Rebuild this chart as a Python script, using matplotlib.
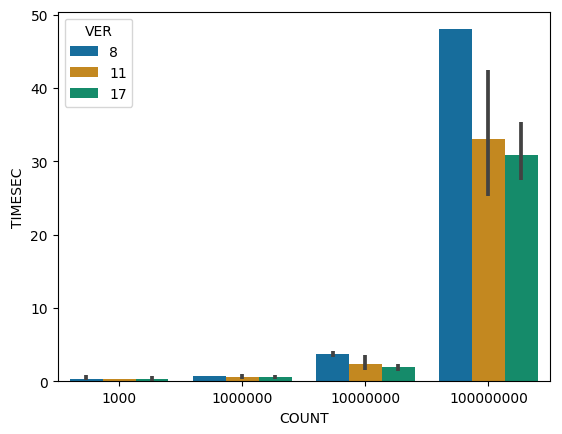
import numpy as np
import seaborn as sns
import matplotlib
matplotlib.use('Agg')
import matplotlib.pyplot as plt

# data (mean TIMESEC, CI low / high)
counts = ['1000', '1000000', '10000000', '100000000']
versions = ['8', '11', '17']

mean_8 = [0.38, 0.68, 3.69, 48.0]
mean_11 = [0.38, 0.55, 2.32, 33.1]
mean_17 = [0.38, 0.55, 1.91, 30.8]

lo_8 = [0.14, np.nan, 3.30, np.nan]
hi_8 = [0.82, np.nan, 4.10, np.nan]
lo_11 = [np.nan, 0.27, 1.55, 25.3]
hi_11 = [np.nan, 0.96, 3.55, 42.5]
lo_17 = [0.10, 0.25, 1.40, 27.4]
hi_17 = [0.70, 0.90, 2.30, 35.3]

means = [mean_8, mean_11, mean_17]
lows = [lo_8, lo_11, lo_17]
highs = [hi_8, hi_11, hi_17]

colors = sns.color_palette('colorblind', 3, desat=0.75)

fig = plt.figure(figsize=(5.62, 4.35), dpi=100)
ax = fig.add_axes([0.1027, 0.1211, 0.8759, 0.8497])

x = np.arange(len(counts))
w = 0.8 / len(versions)
for i, ver in enumerate(versions):
    xs = x - 0.4 + w / 2 + i * w
    ax.bar(xs, means[i], width=w, color=colors[i], label=ver)
    ax.vlines(xs, lows[i], highs[i], color='.26', lw=2.7, zorder=3)

ax.set_xticks(x)
ax.set_xticklabels(counts)
ax.set_xlim(-0.5, len(counts) - 0.5)
ax.set_xlabel('COUNT')
ax.set_ylabel('TIMESEC')
ax.legend(title='VER', loc='upper left')

fig.savefig('out.png', dpi=100)
